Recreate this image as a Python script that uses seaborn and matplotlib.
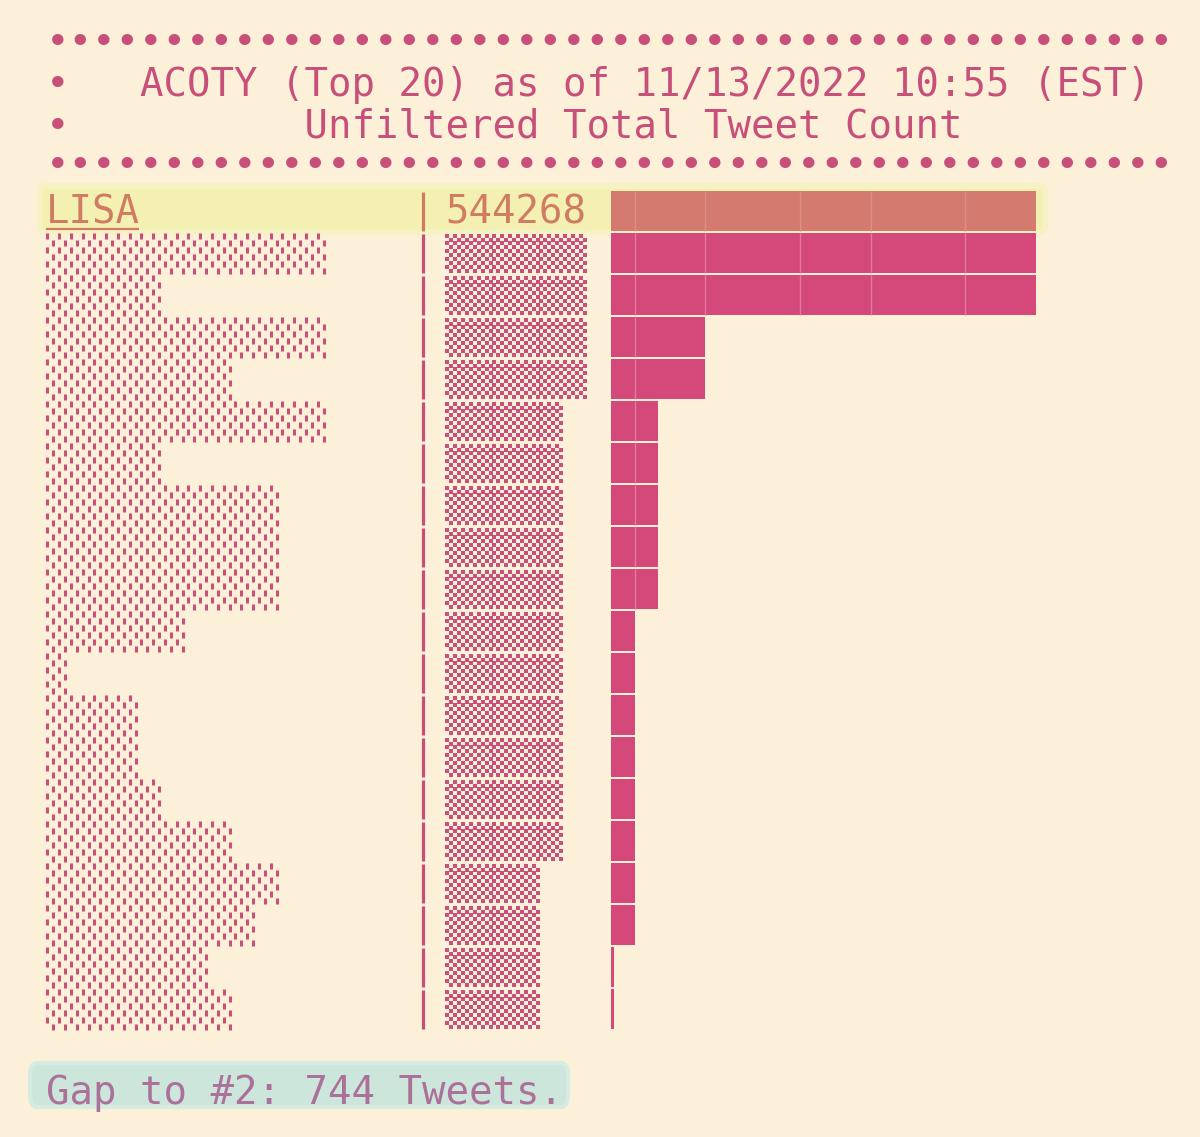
import numpy as np
import pandas as pd
import matplotlib
matplotlib.use("Agg")
import matplotlib.pyplot as plt
import seaborn as sns
from matplotlib.patches import Rectangle, FancyBboxPatch

# ---------------- data ----------------
ranks = [str(i) for i in range(1, 21)]
leader_name = "LISA"
leader_count = 544268
gap_to_second = 744
# hidden names / counts: length in characters / number of digits
name_lengths = [4, 12, 5, 12, 8, 12, 5, 10, 10, 10, 6, 1, 4, 4, 5, 8, 10, 9, 7, 8]
count_digits = [6, 6, 6, 6, 6, 5, 5, 5, 5, 5, 5, 5, 5, 5, 5, 5, 4, 4, 4, 4]
# bar length in block characters
bar_blocks = [18, 18, 18, 4, 4, 2, 2, 2, 2, 2, 1, 1, 1, 1, 1, 1, 1, 1, 0.125, 0.125]
title_line1 = "ACOTY (Top 20) as of 11/13/2022 10:55 (EST)"
title_line2 = "Unfiltered Total Tweet Count"
footer = f"Gap to #2: {gap_to_second} Tweets."

# ---------------- style ----------------
W, H = 1200, 1137
CW = 23.5      # character cell width (px)
LH = 42.0      # row height (px)
X0 = 46.0      # pixel of column 0
Y0 = 211.0     # pixel of row 0 centre
BLOCK = 23.6
BAR_X = 611.0
BG = "#fcf1d8"
PINK_TXT = "#c94f7b"
PINK_BAR = "#d4487a"
SALMON = "#d57a6f"
LEAD_TXT = "#cf7c62"
MASK = "#c9507a"
YELLOW = "#f3f0b2"
TEAL = "#cde6dc"
FOOT_TXT = "#ac7199"
SEAMS = [1, 4, 8, 11, 15]
MONO = "DejaVu Sans Mono"
FS = 28.1

sns.set_style("white")
plt.rcParams["font.family"] = [MONO, "DejaVu Sans"]


def py(px):
    return (px - Y0) / LH


fig = plt.figure(figsize=(W / 100, H / 100), dpi=100, facecolor=BG)
ax = fig.add_axes([0, 0, 1, 1])
ax.set_xlim((0 - X0) / CW, (W - X0) / CW)
ax.set_ylim(py(H), py(0))
ax.set_facecolor(BG)
ax.axis("off")

# ---- title block ----
dots = "\u2022" * 48
tkw = dict(fontsize=FS, family=MONO, color=PINK_TXT, va="baseline", ha="left")
ax.text(0, py(54), dots, **tkw)
ax.text(0, py(96), "\u2022   " + title_line1, **tkw)
ax.text(0, py(138), "\u2022" + " " * 10 + title_line2, **tkw)
ax.text(0, py(177), dots, **tkw)

rows = np.arange(len(ranks))

# ---- leader highlight band ----
ax.add_patch(FancyBboxPatch(((40 - X0) / CW, py(186)), (1045 - 40) / CW, (232 - 186) / LH,
                            boxstyle="round,pad=0.0,rounding_size=0.15",
                            facecolor=YELLOW, edgecolor="#f6f2c4", lw=4, zorder=1))

# ---- leader text ----
ax.text(0, py(224), leader_name, fontsize=FS, family=MONO, color=LEAD_TXT,
        va="baseline", ha="left", zorder=3)
ax.plot([0, len(leader_name) - 0.05], [py(228.5)] * 2, color=LEAD_TXT, lw=1.6,
        solid_capstyle="butt", zorder=3)
ax.text(17, py(224), f"{leader_count}", fontsize=FS, family=MONO, color=LEAD_TXT,
        va="baseline", ha="left", zorder=3)

# ---- separators ----
sep_colors = [LEAD_TXT] + [PINK_TXT] * (len(ranks) - 1)
ax.vlines(np.full(len(rows), (423 - X0) / CW), rows - 0.46, rows + 0.47,
          colors=sep_colors, lw=2.3, zorder=3)

# ---- hidden names (dash pattern) ----
nx, ny = [], []
for r, L in zip(rows[1:], name_lengths[1:]):
    for j in range(6):
        yy = r - 0.5 + (j + 0.5) / 6
        off = 0.25 if j % 2 else 0.0
        for k in range(2 * L):
            nx.append(0.06 + 0.5 * k + off)
            ny.append(yy)
ax.scatter(nx, ny, marker="|", s=13, linewidths=2.2, c=MASK, zorder=3)

# ---- hidden counts (checker pattern) ----
cx, cy = [], []
for r, D in zip(rows[1:], count_digits[1:]):
    for j in range(10):
        yy = r - 0.46 + (j + 0.5) * 0.93 / 10
        for c in range(6 * D):
            if (c + j) % 2 == 0:
                cx.append(17 + (c + 0.5) / 6)
                cy.append(yy)
ax.scatter(cx, cy, marker="s", s=8.5, linewidths=0, c=MASK, zorder=3)

# ---- footer ----
ax.add_patch(FancyBboxPatch(((30 - X0) / CW, py(1063)), (568 - 30) / CW, (1107 - 1063) / LH,
                            boxstyle="round,pad=0.0,rounding_size=0.3",
                            facecolor=TEAL, edgecolor="#d6ebe1", lw=3, zorder=1))
ax.text(0, py(1104), footer, fontsize=FS, family=MONO, color=FOOT_TXT,
        va="baseline", ha="left", zorder=3)

# ---- bars (seaborn) ----
axb = fig.add_axes([BAR_X / W, 0, (W - BAR_X) / W, 1])
df = pd.DataFrame({"rank": ranks, "blocks": bar_blocks})
palette = [SALMON] + [PINK_BAR] * (len(ranks) - 1)
sns.barplot(data=df, x="blocks", y="rank", hue="rank", palette=palette, legend=False,
            saturation=1, width=0.95, orient="h", ax=axb, linewidth=0)
axb.set_xlim(0, (W - BAR_X) / BLOCK)
axb.set_ylim(py(H), py(0))
axb.patch.set_alpha(0)
axb.axis("off")
for s in SEAMS:
    sel = [r for r, b in zip(rows, bar_blocks) if b > s]
    cols = ["#dd8f84" if r == 0 else "#e27a9c" for r in sel]
    axb.vlines(np.full(len(sel), s), np.array(sel) - 0.475, np.array(sel) + 0.475,
               colors=cols, lw=1.0)

fig.savefig("out.png", dpi=100, facecolor=BG)
